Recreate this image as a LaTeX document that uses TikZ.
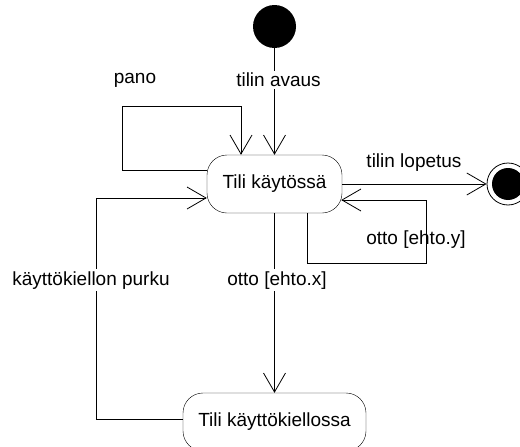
\documentclass[tikz,border=0pt]{standalone}
\usepackage{fontspec}
\setmainfont{Liberation Sans}
\usetikzlibrary{arrows.meta,calc}

\begin{document}
\begin{tikzpicture}[x=1pt,y=-1pt]
	\tikzset{>={Straight Barb[length=19pt,width=22pt]}}
	\tikzset{
		every node/.style={font=\fontsize{19}{23}\selectfont},
		tila/.style={draw,rectangle,rounded corners=20pt,minimum height=58pt,inner sep=0pt},
		siirto/.style={->,line width=0.8pt},
		nimi/.style={fill=white,inner sep=2pt}
	}
	\useasboundingbox (0,0) rectangle (520,447);

	\pgfmathsetmacro{\sx}{274.5}
	\pgfmathsetmacro{\ylin}{184}

	% tilat
	\node[circle,fill=black,minimum size=43pt,inner sep=0pt] (alku) at (\sx,26.5) {};
	\node[tila,minimum width=135pt] (kaytossa) at (\sx,\ylin) {Tili käytössä};
	\node[tila,minimum width=183pt] (kielto) at (\sx,422) {Tili käyttökiellossa};
	\node[circle,draw,line width=0.8pt,minimum size=42pt,inner sep=0pt] (loppu) at (508,\ylin) {};
	\fill (loppu) circle (16);

	% siirrot
	\draw[siirto] (alku) -- (kaytossa) node[nimi,pos=0.3,xshift=4pt]{tilin avaus};
	\draw[siirto] ($(kaytossa.west)+(0,-14)$) -| ++(-84,-64) -| ($(kaytossa.north)+(-33.5,0)$);
	\node (pano) at (135,80) {pano};
	\draw[siirto] (kaytossa.east) -- (loppu);
	\node[anchor=base] (lopetus) at (414,167) {tilin lopetus};
	\draw[siirto] ($(kaytossa.south)+(32.5,0)$) |- ++(119,50) |- ($(kaytossa.east)+(-1,16)$);
	\node[anchor=base] (ehtoy) at (416,244) {otto [ehto.y]};
	\draw[siirto] (kaytossa) -- (kielto);
	\node[nimi,anchor=base] (ehtox) at (277,285) {otto [ehto.x]};
	\draw[siirto] ($(kielto.west)+(0,-3)$) -| ++(-86,-221) -- ($(kaytossa.west)+(0,14)$);
	\node[nimi,anchor=base] (purku) at (91,285) {käyttökiellon purku};

\end{tikzpicture}
\end{document}
